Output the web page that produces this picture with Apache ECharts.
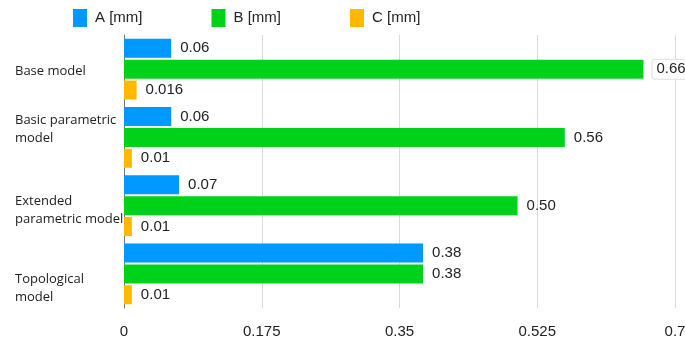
<!DOCTYPE html>
<html><head><meta charset="utf-8">
<script src="https://cdn.jsdelivr.net/npm/echarts@6/dist/echarts.min.js"></script>
<style>html,body{margin:0;padding:0;background:#fff}#c{width:685px;height:347px}</style>
</head><body><div id="c"></div>
<script>
const categories = ['Base model', 'Basic parametric\nmodel', 'Extended\nparametric model', 'Topological\nmodel'];
const seriesNames = ['A [mm]', 'B [mm]', 'C [mm]'];
const valuesA = [0.06, 0.06, 0.07, 0.38];
const valuesB = [0.66, 0.56, 0.50, 0.38];
const valuesC = [0.016, 0.01, 0.01, 0.01];
const xTicks = [0, 0.175, 0.35, 0.525, 0.7];
const colors = ['#0099FF', '#00D21A', '#FFB800'];
// per-category vertical label nudges (style only): >0 spacer on top, <0 spacer below
const catShift = [4, -16, 9, 28];

function fmt(p) {
  const s = String(p.value);
  const d = s.split('.')[1];
  return d && d.length > 2 ? s : p.value.toFixed(2);
}
function catFmt(value, index) {
  const lines = value.split('\n').map(l => '{t|' + l + '}');
  const h = catShift[index] || 0;
  if (h > 0) lines.unshift('{s' + h + '| }');
  if (h < 0) lines.push('{s' + (-h) + '| }');
  return lines.join('\n');
}
const rich = {t: {fontFamily: 'Open Sans', fontSize: 13, color: '#222', lineHeight: 18, align: 'left'}};
catShift.forEach(h => { const a = Math.abs(h); rich['s' + a] = {fontSize: 1, lineHeight: a, height: a}; });

const chart = echarts.init(document.getElementById('c'), null, {renderer: 'canvas'});
const labelBase = {
  show: true, position: 'right', distance: 9, formatter: fmt,
  fontFamily: 'Liberation Sans', fontSize: 15, color: '#222'
};
const mk = (name, data, i) => ({
  name, type: 'bar',
  data: data.map((v, k) => (i === 1 && k === 0) ? {
    value: v,
    label: {backgroundColor: '#fff', borderColor: '#ddd', borderWidth: 1, borderRadius: 3, padding: [2, 4]}
  } : v),
  barWidth: 19, barGap: '10%',
  itemStyle: {color: colors[i]},
  label: labelBase
});
chart.setOption({
  animation: false,
  legend: {
    top: 4, left: 68, itemWidth: 14, itemHeight: 18, itemGap: 69,
    icon: 'rect',
    textStyle: {fontFamily: 'Liberation Sans', fontSize: 15, color: '#222', padding: [0, 0, 0, 3]},
    data: seriesNames
  },
  grid: {left: 124, right: 10, top: 35, bottom: 39, outerBoundsMode: 'none', containLabel: false},
  xAxis: {
    type: 'value', min: xTicks[0], max: xTicks[xTicks.length - 1], interval: 0.175,
    axisLine: {show: false}, axisTick: {show: false},
    splitLine: {lineStyle: {color: '#d9d9d9'}},
    axisLabel: {fontFamily: 'Liberation Sans', fontSize: 15, color: '#222', margin: 16}
  },
  yAxis: {
    type: 'category', inverse: true, data: categories,
    axisLine: {lineStyle: {color: '#777'}}, axisTick: {show: false},
    axisLabel: {
      align: 'left', margin: 109, formatter: catFmt, rich,
      fontFamily: 'Open Sans', fontSize: 13, color: '#222', lineHeight: 18
    }
  },
  series: [mk(seriesNames[0], valuesA, 0), mk(seriesNames[1], valuesB, 1), mk(seriesNames[2], valuesC, 2)]
});
</script></body></html>
